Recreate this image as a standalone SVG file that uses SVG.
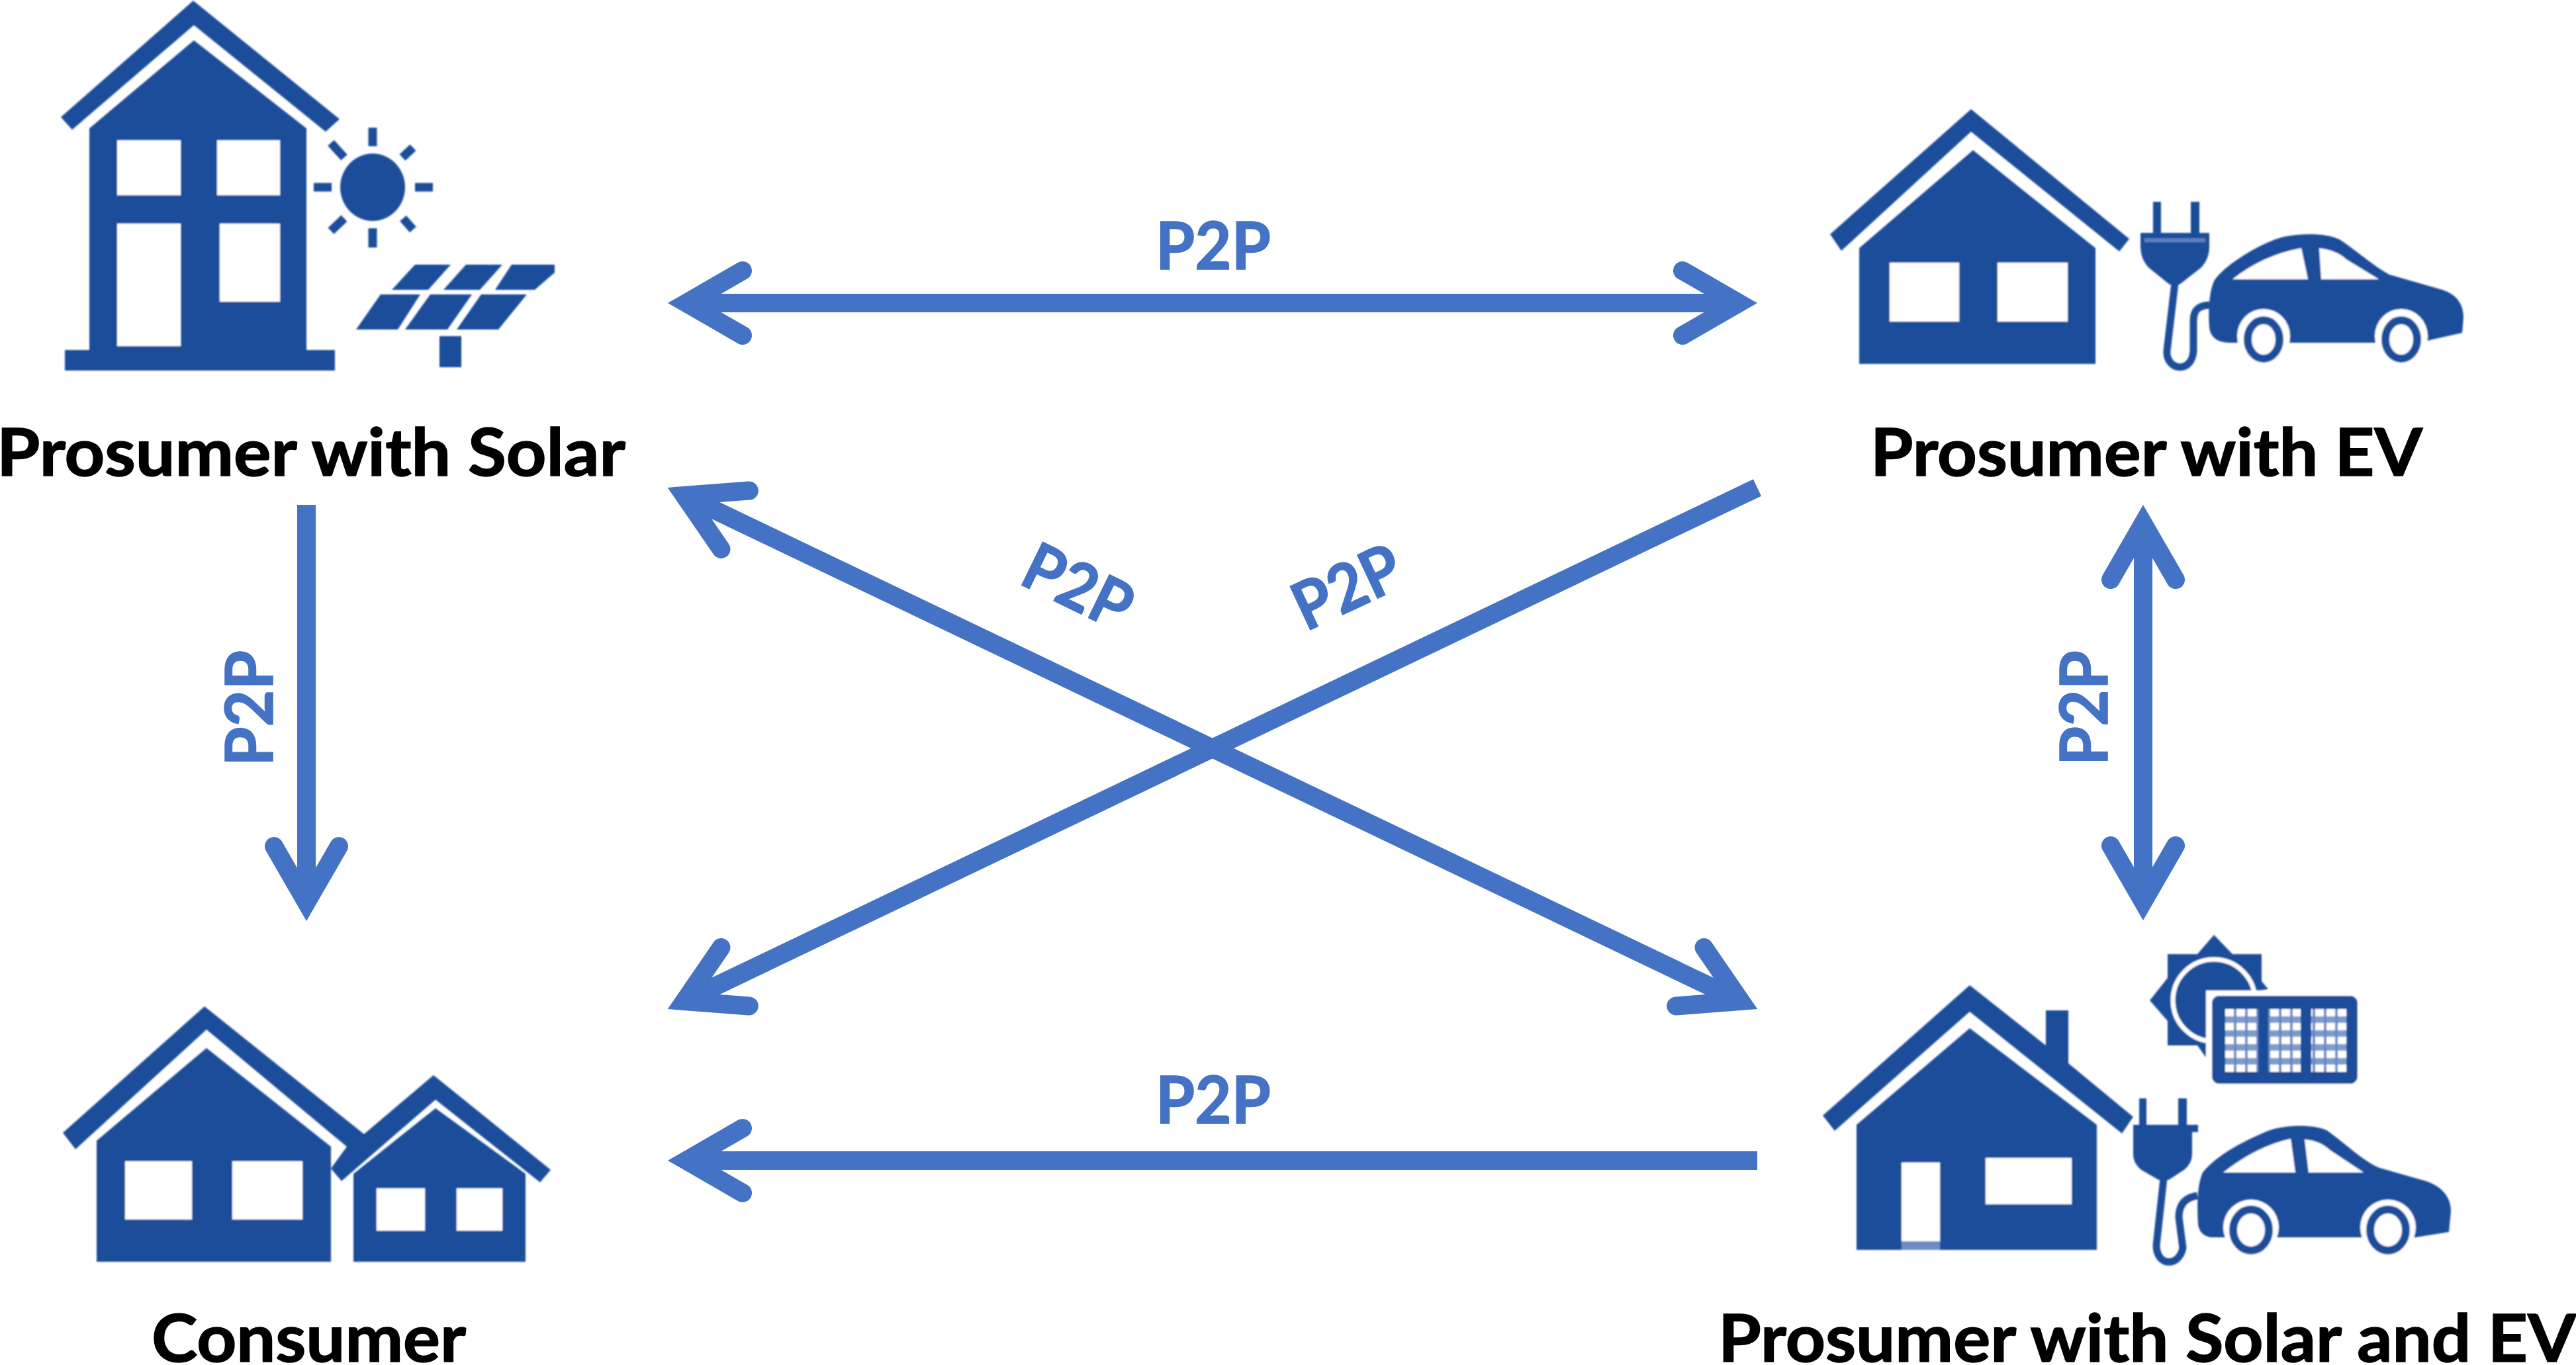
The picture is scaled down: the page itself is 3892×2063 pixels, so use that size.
<svg xmlns="http://www.w3.org/2000/svg" width="3892" height="2063" viewBox="0 0 3892 2063">
<style>
.ic{fill:#1f4e9b}
.w{fill:#fff}
.ray{stroke:#1f4e9b;stroke-width:13;fill:none}
.cord{stroke:#1f4e9b;stroke-width:11;fill:none}
.ring{fill:#fff;stroke:#1f4e9b;stroke-width:12}
.lbl{font-family:"Lato","Carlito","Liberation Sans",sans-serif;font-weight:700;font-size:99px;fill:#000;stroke:#000;stroke-width:1.5}
.p2p{font-family:"Lato","Carlito","Liberation Sans",sans-serif;font-weight:700;font-size:100px;fill:#4472c4;stroke:#4472c4;stroke-width:1.5}
.ln{stroke:#4472c4;stroke-width:28;fill:none}
.hd{stroke:#4472c4;stroke-width:28;fill:none;stroke-linecap:round;stroke-linejoin:miter;stroke-miterlimit:6}
</style>
<defs>
<filter id="soft" x="-5%" y="-5%" width="110%" height="110%"><feGaussianBlur stdDeviation="1.2"/></filter>
<path id="open" class="hd" d="M-85,-49 L0,0 L-85,49"/>
<pattern id="cells" patternUnits="userSpaceOnUse" x="3362" y="1525" width="17" height="21">
<rect width="17" height="21" fill="#7f9bcd"/><rect width="17" height="11" fill="#fff"/><rect x="13" width="4" height="21" fill="#6a8ac4"/>
</pattern>
</defs>
<rect width="3892" height="2063" fill="#fff"/>

<g id="connectors">
<path class="ln" d="M1037,458 H2627"/>
<use href="#open" transform="translate(1037,458) rotate(180)"/>
<use href="#open" transform="translate(2627,458)"/>
<path class="ln" d="M1034,749 L2630,1513"/>
<use href="#open" transform="translate(1034,749) rotate(205.6)"/>
<use href="#open" transform="translate(2630,1513) rotate(25.6)"/>
<path class="ln" d="M2655,737 L1034,1513"/>
<use href="#open" transform="translate(1034,1513) rotate(154.4)"/>
<path class="ln" d="M2655,1754 H1037"/>
<use href="#open" transform="translate(1037,1754) rotate(180)"/>
<path class="ln" d="M463,763 V1364"/>
<use href="#open" transform="translate(463,1364) rotate(90)"/>
<path class="ln" d="M3238,791 V1363"/>
<use href="#open" transform="translate(3238,791) rotate(-90)"/>
<use href="#open" transform="translate(3238,1363) rotate(90)"/>
<text class="p2p" x="1746" y="407" textLength="174" lengthAdjust="spacingAndGlyphs">P2P</text>
<text class="p2p" x="1746" y="1698" textLength="174" lengthAdjust="spacingAndGlyphs">P2P</text>
<text class="p2p" transform="translate(1537,881) rotate(26)" textLength="170" lengthAdjust="spacingAndGlyphs">P2P</text>
<text class="p2p" transform="translate(1973,955) rotate(-25)" textLength="170" lengthAdjust="spacingAndGlyphs">P2P</text>
<text class="p2p" transform="translate(412,1158) rotate(-90)" textLength="175" lengthAdjust="spacingAndGlyphs">P2P</text>
<text class="p2p" transform="translate(3184,1157) rotate(-90)" textLength="174" lengthAdjust="spacingAndGlyphs">P2P</text>
</g>

<g id="node-solar">
<g filter="url(#soft)">
<path class="ic" d="M292,1 L513,180 L492,199 L293,38 L109,196 L92,177 Z"/>
<path class="ic" d="M293,61 L463,194 V529 H506 V560 H98 V529 H135 V194 Z"/>
<rect class="w" x="177" y="212" width="96" height="83"/>
<rect class="w" x="328" y="212" width="95" height="83"/>
<rect class="w" x="177" y="338" width="96" height="185"/>
<rect class="w" x="332" y="338" width="91" height="118"/>
<ellipse class="ic" cx="563" cy="283" rx="49" ry="51"/>
<path class="ray" d="M563,193 V221 M563,345 V374 M474,283 H501 M627,283 H654 M500,216 L520,238 M624,223 L608,238 M500,349 L520,330 M624,347 L609,330"/>
<path class="ic" d="M627,400 H681 L647,438 H592 Z M704,400 H759 L725,438 H670 Z M773,400 H838 V412 L808,438 H748 Z M575,445 H635 L601,498 H538 Z M650,445 H713 L676,498 H612 Z M727,445 H796 L753,498 H690 Z"/>
<rect class="ic" x="664" y="508" width="33" height="47"/>
</g>
<text class="lbl" x="-5" y="719" textLength="950" lengthAdjust="spacingAndGlyphs">Prosumer with Solar</text>
</g>

<g id="node-ev">
<g filter="url(#soft)">
<path class="ic" d="M2978,165 L3217,361 L3202,380 L2978,199 L2782,379 L2765,354 Z"/>
<path class="ic" d="M2981,227 L3166,375 V550 H2809 V375 Z"/>
<rect class="w" x="2855" y="397" width="105" height="89"/>
<rect class="w" x="3018" y="397" width="106" height="89"/>
<rect class="ic" x="3253" y="305" width="12" height="50"/>
<rect class="ic" x="3310" y="305" width="13" height="50"/>
<path class="ic" d="M3234,352 H3338 V372 Q3338,392 3325,405 L3293,430 H3278 L3247,405 Q3234,392 3234,372 Z"/>
<rect x="3240" y="360" width="92" height="6" fill="#5c7fbd"/>
<path class="cord" d="M3286,428 L3274,530 C3272,560 3312,566 3314,530 L3314,485 C3314,468 3322,462 3338,461"/>
<path class="ic" d="M3338,495 C3336,470 3338,440 3345,425 C3360,400 3420,365 3450,358 C3480,352 3515,352 3535,362 C3555,375 3590,405 3610,415 L3690,438 C3712,445 3722,460 3722,480 L3720,503 L3671,514 L3660,518 H3370 C3350,518 3340,510 3338,495 Z"/>
<path class="w" d="M3373,422 Q3420,385 3477,375 L3487,422 Z M3507,422 L3504,375 Q3530,378 3545,392 L3594,422 Z"/>
<ellipse class="w" cx="3420" cy="508" rx="40" ry="41"/>
<ellipse class="w" cx="3628" cy="508" rx="40" ry="41"/>
<ellipse class="ring" cx="3420" cy="513" rx="24" ry="29"/>
<ellipse class="ring" cx="3628" cy="513" rx="24" ry="29"/>
</g>
<text class="lbl" x="2826" y="719" textLength="834" lengthAdjust="spacingAndGlyphs">Prosumer with EV</text>
</g>

<g id="node-consumer">
<g filter="url(#soft)">
<path class="ic" d="M95,1712 L309,1521 L550,1714 L655,1625 L832,1768 L816,1787 L658,1662 L516,1785 L500,1766 L524,1733 L312,1556 L114,1737 Z"/>
<path class="ic" d="M312,1584 L500,1733 V1907 H146 V1724 Z"/>
<rect class="w" x="189" y="1755" width="101" height="88"/>
<rect class="w" x="351" y="1755" width="106" height="88"/>
<path class="ic" d="M658,1675 L794,1774 V1907 H534 V1774 Z"/>
<rect class="w" x="569" y="1796" width="73" height="64"/>
<rect class="w" x="690" y="1796" width="69" height="64"/>
</g>
<text class="lbl" x="229" y="2058" textLength="475" lengthAdjust="spacingAndGlyphs">Consumer</text>
</g>

<g id="node-solar-ev">
<g filter="url(#soft)">
<path class="ic" d="M2976,1489 L3091,1580 V1527 H3125 V1607 L3223,1688 L3206,1713 L2976,1529 L2772,1709 L2754,1686 Z"/>
<path class="ic" d="M2976,1554 L3168,1700 V1889 H2805 V1700 Z"/>
<rect class="w" x="2873" y="1757" width="58" height="119"/>
<rect x="2873" y="1876" width="58" height="13" fill="#6d8cc4"/>
<rect class="w" x="3000" y="1750" width="130" height="70"/>
<rect class="ic" x="3232" y="1660" width="11" height="42"/>
<rect class="ic" x="3291" y="1660" width="13" height="42"/>
<path class="ic" d="M3223,1700 H3321 V1711 H3312 V1745 Q3312,1758 3300,1768 L3277,1783 H3261 L3235,1768 Q3223,1758 3223,1745 Z"/>
<path class="cord" d="M3269,1781 L3258,1882 C3258,1914 3292,1916 3298,1886 L3292,1840 C3292,1820 3302,1810 3320,1807"/>
<path class="ic" d="M3321,1850 C3319,1820 3320,1790 3328,1772 C3350,1745 3390,1725 3420,1712 C3445,1700 3490,1698 3515,1708 C3540,1725 3570,1755 3595,1765 L3665,1785 C3690,1793 3703,1810 3703,1830 L3700,1862 L3650,1870 H3340 C3328,1868 3322,1860 3321,1850 Z"/>
<path class="w" d="M3359,1772 Q3410,1732 3461,1721 L3468,1772 Z M3488,1772 L3482,1722 Q3505,1724 3520,1738 L3571,1772 Z"/>
<ellipse class="w" cx="3401" cy="1855" rx="42" ry="42"/>
<ellipse class="w" cx="3608" cy="1855" rx="42" ry="42"/>
<ellipse class="ring" cx="3401" cy="1859" rx="27" ry="31"/>
<ellipse class="ring" cx="3608" cy="1859" rx="27" ry="31"/>
<path class="ic" d="M3345,1413 L3373,1442 H3417 V1483 L3427,1495 L3410,1498 H3345 V1597 H3332 L3320,1580 H3275 V1543 L3248,1512 L3275,1478 V1442 H3320 Z"/>
<circle cx="3345" cy="1512" r="62" fill="#1f4e9b" stroke="#fff" stroke-width="7"/>
<rect class="w" x="3333" y="1497" width="235" height="148"/>
<rect class="ic" x="3342" y="1505" width="220" height="133" rx="11"/>
<rect x="3362" y="1525" width="50" height="95" fill="url(#cells)"/>
<rect x="3427" y="1525" width="49" height="95" fill="url(#cells)"/>
<rect x="3492" y="1525" width="53" height="95" fill="url(#cells)"/>
</g>
<text class="lbl" x="2596" y="2058" textLength="1296" lengthAdjust="spacingAndGlyphs">Prosumer with Solar and EV</text>
</g>
</svg>
